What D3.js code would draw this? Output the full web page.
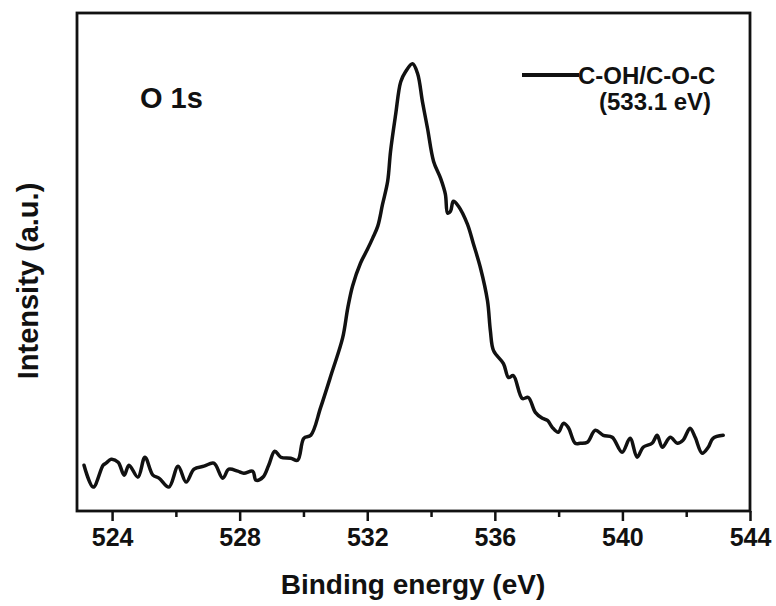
<!DOCTYPE html>
<html>
<head>
<meta charset="utf-8">
<script src="https://cdn.jsdelivr.net/npm/d3@7"></script>
<style>
  body { margin: 0; background: #fff; }
  text { font-family: "Liberation Sans", Arial, sans-serif; font-weight: bold; fill: #111; }
</style>
</head>
<body>
<svg id="chart" width="776" height="606"></svg>
<script>
// O 1s XPS spectrum, binding energy (eV) vs intensity (a.u.)
var energy = [
  523.12, 523.41, 523.72, 523.81, 523.97, 524.19, 524.38, 524.53, 524.81, 525.03,
  525.28, 525.47, 525.78, 526.07, 526.32, 526.57, 526.88, 527.19, 527.47, 527.66,
  527.94, 528.13, 528.41, 528.51, 528.73, 528.91, 529.10, 529.29, 529.60, 529.82,
  530.01, 530.23, 530.54, 530.89, 531.23, 531.39, 531.54, 531.79, 532.01, 532.17,
  532.33, 532.48, 532.64, 532.73, 532.89, 533.05, 533.20, 533.42, 533.58, 533.73,
  533.89, 534.08, 534.30, 534.45, 534.52, 534.61, 534.70, 534.86, 535.14, 535.33,
  535.55, 535.77, 535.86, 535.96, 536.27, 536.43, 536.58, 536.86, 537.05, 537.27,
  537.49, 537.65, 537.80, 537.99, 538.15, 538.30, 538.52, 538.68, 538.90, 539.15,
  539.40, 539.68, 539.99, 540.24, 540.46, 540.65, 540.93, 541.09, 541.25, 541.50,
  541.72, 541.90, 542.12, 542.28, 542.50, 542.69, 542.84, 543.16
];
var intensity = [
   92,  48,  92,  96, 104,  98,  72,  92,  68, 108,
   72,  66,  48,  90,  58,  84,  90,  96,  66,  84,
   80,  76,  80,  62,  68,  92, 120, 108, 106, 102,
  146, 152, 208, 278, 348, 408, 452, 498, 526, 548,
  572, 616, 662, 722, 796, 862, 882, 898, 878, 822,
  768, 702, 668, 636, 598, 602, 622, 612, 576, 536,
  488, 422, 362, 322, 296, 268, 272, 226, 228, 198,
  186, 182, 168, 158, 176, 168, 136, 136, 138, 162,
  152, 148, 118, 146, 108, 128, 136, 152, 128, 148,
  136, 142, 166, 148, 116, 128, 146, 152
];
var majorTicks = [524, 528, 532, 536, 540, 544];
var minorTicks = [526, 530, 534, 538, 542];
var xDomain = [522.9, 544];
var yDomain = [0, 1000];
var seriesLabel = ['C-OH/C-O-C', '(533.1 eV)'];
var panelLabel = 'O 1s';
var xTitle = 'Binding energy (eV)';
var yTitle = 'Intensity (a.u.)';

var margin = { top: 13, right: 26, bottom: 95, left: 77 },
    width = 776 - margin.left - margin.right,
    height = 606 - margin.top - margin.bottom;

var svg = d3.select('#chart');
var g = svg.append('g')
  .attr('transform', 'translate(' + margin.left + ',' + margin.top + ')');

var x = d3.scaleLinear().domain(xDomain).range([0, width]);
var y = d3.scaleLinear().domain(yDomain).range([height, 0]);

var data = energy.map(function(e, i) { return { e: e, v: intensity[i] }; });

// minor ticks first, then major with labels
var minorAxis = g.append('g')
  .attr('transform', 'translate(0,' + height + ')')
  .call(d3.axisBottom(x).tickValues(minorTicks).tickSize(6).tickFormat(''));
minorAxis.select('.domain').remove();

var majorAxis = g.append('g')
  .attr('transform', 'translate(0,' + height + ')')
  .call(d3.axisBottom(x).tickValues(majorTicks).tickSize(10).tickPadding(7).tickFormat(d3.format('d')));
majorAxis.select('.domain').remove();
majorAxis.selectAll('text').style('font-size', '25px');

g.selectAll('.tick line')
  .attr('stroke', '#111')
  .attr('stroke-width', 2.5);

// frame
g.append('rect')
  .attr('x', 0).attr('y', 0)
  .attr('width', width).attr('height', height)
  .attr('fill', 'none')
  .attr('stroke', '#111')
  .attr('stroke-width', 2.8);

var line = d3.line()
  .x(function(d) { return x(d.e); })
  .y(function(d) { return y(d.v); })
  .curve(d3.curveCatmullRom.alpha(0.5));

g.append('path')
  .datum(data)
  .attr('fill', 'none')
  .attr('stroke', '#111')
  .attr('stroke-width', 3.5)
  .attr('stroke-linejoin', 'round')
  .attr('stroke-linecap', 'round')
  .attr('d', line);

// panel label
g.append('text')
  .attr('x', 63).attr('y', 95)
  .style('font-size', '29px')
  .text(panelLabel);

// legend
g.append('line')
  .attr('x1', 445).attr('x2', 502)
  .attr('y1', 62).attr('y2', 62)
  .attr('stroke', '#111')
  .attr('stroke-width', 4);
g.append('text')
  .attr('x', 501).attr('y', 71)
  .style('font-size', '24px')
  .text(seriesLabel[0]);
g.append('text')
  .attr('x', 522).attr('y', 97)
  .style('font-size', '24px')
  .text(seriesLabel[1]);

// axis titles
svg.append('text')
  .attr('x', 413)
  .attr('y', 594)
  .attr('text-anchor', 'middle')
  .style('font-size', '28px')
  .text(xTitle);

svg.append('text')
  .attr('transform', 'translate(38,' + 281 + ') rotate(-90)')
  .attr('text-anchor', 'middle')
  .style('font-size', '29px')
  .text(yTitle);
</script>
</body>
</html>
